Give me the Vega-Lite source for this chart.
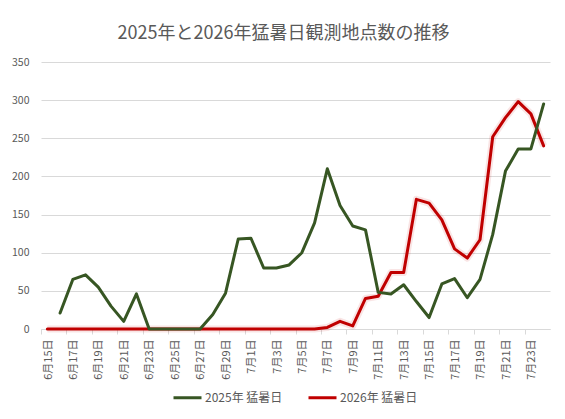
{
  "$schema": "https://vega.github.io/schema/vega-lite/v6.json",
  "width": 509,
  "height": 267,
  "autosize": {"type": "none"},
  "padding": {"left": 41, "top": 62, "right": 15, "bottom": 90},
  "background": "white",
  "title": {
    "text": "2025年と2026年猛暑日観測地点数の推移",
    "font": "Noto Sans CJK JP",
    "fontSize": 18,
    "fontWeight": "normal",
    "color": "#595959",
    "anchor": "middle",
    "dx": -12,
    "offset": 14
  },
  "data": {
    "values": [
      {"date": "6月15日", "series": "2026年 猛暑日", "value": 0},
      {"date": "6月16日", "series": "2025年 猛暑日", "value": 21},
      {"date": "6月16日", "series": "2026年 猛暑日", "value": 0},
      {"date": "6月17日", "series": "2025年 猛暑日", "value": 65},
      {"date": "6月17日", "series": "2026年 猛暑日", "value": 0},
      {"date": "6月18日", "series": "2025年 猛暑日", "value": 71},
      {"date": "6月18日", "series": "2026年 猛暑日", "value": 0},
      {"date": "6月19日", "series": "2025年 猛暑日", "value": 55},
      {"date": "6月19日", "series": "2026年 猛暑日", "value": 0},
      {"date": "6月20日", "series": "2025年 猛暑日", "value": 30},
      {"date": "6月20日", "series": "2026年 猛暑日", "value": 0},
      {"date": "6月21日", "series": "2025年 猛暑日", "value": 10},
      {"date": "6月21日", "series": "2026年 猛暑日", "value": 0},
      {"date": "6月22日", "series": "2025年 猛暑日", "value": 46},
      {"date": "6月22日", "series": "2026年 猛暑日", "value": 0},
      {"date": "6月23日", "series": "2025年 猛暑日", "value": 0},
      {"date": "6月23日", "series": "2026年 猛暑日", "value": 0},
      {"date": "6月24日", "series": "2025年 猛暑日", "value": 0},
      {"date": "6月24日", "series": "2026年 猛暑日", "value": 0},
      {"date": "6月25日", "series": "2025年 猛暑日", "value": 0},
      {"date": "6月25日", "series": "2026年 猛暑日", "value": 0},
      {"date": "6月26日", "series": "2025年 猛暑日", "value": 0},
      {"date": "6月26日", "series": "2026年 猛暑日", "value": 0},
      {"date": "6月27日", "series": "2025年 猛暑日", "value": 0},
      {"date": "6月27日", "series": "2026年 猛暑日", "value": 0},
      {"date": "6月28日", "series": "2025年 猛暑日", "value": 19},
      {"date": "6月28日", "series": "2026年 猛暑日", "value": 0},
      {"date": "6月29日", "series": "2025年 猛暑日", "value": 47},
      {"date": "6月29日", "series": "2026年 猛暑日", "value": 0},
      {"date": "6月30日", "series": "2025年 猛暑日", "value": 118},
      {"date": "6月30日", "series": "2026年 猛暑日", "value": 0},
      {"date": "7月1日", "series": "2025年 猛暑日", "value": 119},
      {"date": "7月1日", "series": "2026年 猛暑日", "value": 0},
      {"date": "7月2日", "series": "2025年 猛暑日", "value": 80},
      {"date": "7月2日", "series": "2026年 猛暑日", "value": 0},
      {"date": "7月3日", "series": "2025年 猛暑日", "value": 80},
      {"date": "7月3日", "series": "2026年 猛暑日", "value": 0},
      {"date": "7月4日", "series": "2025年 猛暑日", "value": 84},
      {"date": "7月4日", "series": "2026年 猛暑日", "value": 0},
      {"date": "7月5日", "series": "2025年 猛暑日", "value": 100},
      {"date": "7月5日", "series": "2026年 猛暑日", "value": 0},
      {"date": "7月6日", "series": "2025年 猛暑日", "value": 139},
      {"date": "7月6日", "series": "2026年 猛暑日", "value": 0},
      {"date": "7月7日", "series": "2025年 猛暑日", "value": 210},
      {"date": "7月7日", "series": "2026年 猛暑日", "value": 2},
      {"date": "7月8日", "series": "2025年 猛暑日", "value": 162},
      {"date": "7月8日", "series": "2026年 猛暑日", "value": 10},
      {"date": "7月9日", "series": "2025年 猛暑日", "value": 135},
      {"date": "7月9日", "series": "2026年 猛暑日", "value": 4},
      {"date": "7月10日", "series": "2025年 猛暑日", "value": 130},
      {"date": "7月10日", "series": "2026年 猛暑日", "value": 40},
      {"date": "7月11日", "series": "2025年 猛暑日", "value": 48},
      {"date": "7月11日", "series": "2026年 猛暑日", "value": 43},
      {"date": "7月12日", "series": "2025年 猛暑日", "value": 46},
      {"date": "7月12日", "series": "2026年 猛暑日", "value": 74},
      {"date": "7月13日", "series": "2025年 猛暑日", "value": 58},
      {"date": "7月13日", "series": "2026年 猛暑日", "value": 74},
      {"date": "7月14日", "series": "2025年 猛暑日", "value": 36},
      {"date": "7月14日", "series": "2026年 猛暑日", "value": 170},
      {"date": "7月15日", "series": "2025年 猛暑日", "value": 15},
      {"date": "7月15日", "series": "2026年 猛暑日", "value": 165},
      {"date": "7月16日", "series": "2025年 猛暑日", "value": 59},
      {"date": "7月16日", "series": "2026年 猛暑日", "value": 143},
      {"date": "7月17日", "series": "2025年 猛暑日", "value": 66},
      {"date": "7月17日", "series": "2026年 猛暑日", "value": 105},
      {"date": "7月18日", "series": "2025年 猛暑日", "value": 41},
      {"date": "7月18日", "series": "2026年 猛暑日", "value": 93},
      {"date": "7月19日", "series": "2025年 猛暑日", "value": 65},
      {"date": "7月19日", "series": "2026年 猛暑日", "value": 117},
      {"date": "7月20日", "series": "2025年 猛暑日", "value": 124},
      {"date": "7月20日", "series": "2026年 猛暑日", "value": 252},
      {"date": "7月21日", "series": "2025年 猛暑日", "value": 207},
      {"date": "7月21日", "series": "2026年 猛暑日", "value": 277},
      {"date": "7月22日", "series": "2025年 猛暑日", "value": 236},
      {"date": "7月22日", "series": "2026年 猛暑日", "value": 298},
      {"date": "7月23日", "series": "2025年 猛暑日", "value": 236},
      {"date": "7月23日", "series": "2026年 猛暑日", "value": 282},
      {"date": "7月24日", "series": "2025年 猛暑日", "value": 295},
      {"date": "7月24日", "series": "2026年 猛暑日", "value": 240}
    ]
  },
  "encoding": {
    "x": {
      "field": "date",
      "type": "ordinal",
      "sort": null,
      "scale": {"type": "point", "padding": 0.5},
      "axis": {
        "title": null,
        "values": ["6月15日", "6月17日", "6月19日", "6月21日", "6月23日", "6月25日", "6月27日", "6月29日", "7月1日", "7月3日", "7月5日", "7月7日", "7月9日", "7月11日", "7月13日", "7月15日", "7月17日", "7月19日", "7月21日", "7月23日"],
        "labelAngle": -90,
        "labelFont": "Noto Sans CJK JP",
        "labelFontSize": 11,
        "labelColor": "#595959",
        "labelPadding": 5,
        "labelOffset": 7,
        "domainColor": "#D9D9D9",
        "tickColor": "#D9D9D9",
        "tickSize": 5,
        "tickOffset": -6.36,
        "grid": false
      }
    },
    "y": {
      "field": "value",
      "type": "quantitative",
      "scale": {"domain": [0, 350]},
      "axis": {
        "title": null,
        "values": [0, 50, 100, 150, 200, 250, 300, 350],
        "labelFont": "Noto Sans CJK JP",
        "labelFontSize": 10.5,
        "labelColor": "#595959",
        "labelPadding": 12,
        "domain": false,
        "ticks": false,
        "grid": true,
        "gridColor": "#D9D9D9"
      }
    }
  },
  "layer": [
    {
      "transform": [{"filter": "datum.series == '2026年 猛暑日'"}],
      "mark": {"type": "line", "strokeWidth": 7, "opacity": 0.1, "strokeJoin": "round", "color": "#C00000"},
      "encoding": {}
    },
    {
      "mark": {"type": "line", "strokeWidth": 3, "strokeJoin": "round", "strokeCap": "round"},
      "encoding": {
        "color": {
          "field": "series",
          "type": "nominal",
          "scale": {"domain": ["2025年 猛暑日", "2026年 猛暑日"], "range": ["#375623", "#C00000"]},
          "legend": {
            "title": null,
            "orient": "none",
            "legendX": 131,
            "legendY": 320,
            "direction": "horizontal",
            "symbolType": "stroke",
            "symbolSize": 784,
            "symbolStrokeWidth": 3,
            "labelFont": "Noto Sans CJK JP",
            "labelFontSize": 12,
            "labelColor": "#595959",
            "labelOffset": 2,
            "columnPadding": 19
          }
        }
      }
    }
  ],
  "config": {
    "view": {"stroke": null}
  }
}
